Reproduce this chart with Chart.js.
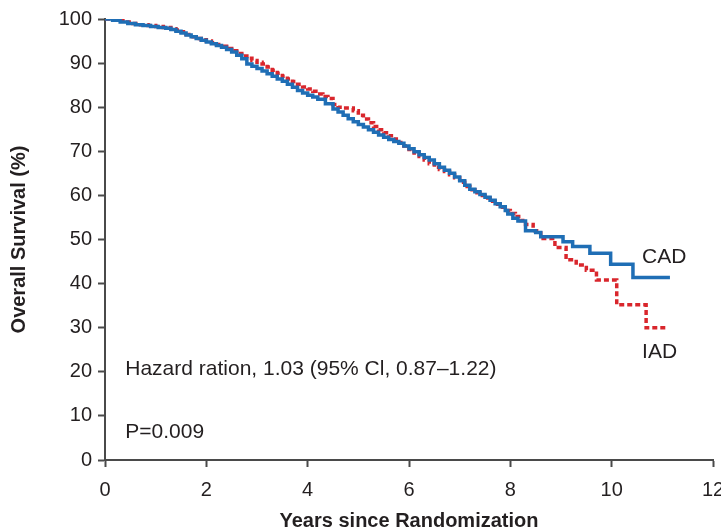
<!DOCTYPE html>
<html>
<head>
<meta charset="utf-8">
<script src="https://cdn.jsdelivr.net/npm/chart.js@4"></script>
<style>
  html, body { margin: 0; padding: 0; background: #fff; }
  #wrap { width: 721px; height: 530px; }
</style>
</head>
<body>
<div id="wrap"><canvas id="km" width="721" height="530"></canvas></div>
<script>
// 생존곡선 값
const cadYears = [0, 0.15, 0.3, 0.45, 0.6, 0.75, 0.9, 1.05, 1.2, 1.3, 1.4, 1.5, 1.6, 1.7, 1.8, 1.9, 2.0, 2.1, 2.2, 2.3,
  2.4, 2.5, 2.6, 2.7, 2.8, 2.9, 3.0, 3.1, 3.2, 3.3, 3.4, 3.5, 3.6, 3.7, 3.8, 3.9, 4.0, 4.1, 4.2, 4.35,
  4.5, 4.6, 4.7, 4.8, 4.9, 5.0, 5.1, 5.2, 5.3, 5.4, 5.5, 5.6, 5.7, 5.8, 5.9, 6.0, 6.1, 6.2, 6.3, 6.4,
  6.5, 6.6, 6.7, 6.8, 6.9, 7.0, 7.1, 7.2, 7.3, 7.4, 7.5, 7.6, 7.7, 7.8, 7.9, 7.95, 8.05, 8.15, 8.3, 8.5,
  8.6, 9.04, 9.23, 9.57, 9.98, 10.42, 11.15];
const cadSurv = [100, 99.7, 99.3, 99.0, 98.7, 98.5, 98.3, 98.1, 97.9, 97.6, 97.2, 96.8, 96.4, 96.0, 95.6, 95.2, 94.8, 94.4, 94.0, 93.6,
  93.1, 92.5, 91.8, 91.0, 89.8, 89.3, 88.8, 88.2, 87.6, 87.0, 86.4, 85.9, 85.2, 84.5, 83.8, 83.2, 82.7, 82.3, 81.8, 80.8,
  79.6, 78.9, 78.2, 77.4, 76.7, 76.1, 75.5, 74.9, 74.3, 73.7, 73.2, 72.7, 72.2, 71.8, 71.2, 70.6, 69.9, 69.2, 68.6, 68.0,
  67.2, 66.4, 65.7, 65.0, 64.2, 63.3, 62.3, 61.4, 60.8, 60.2, 59.6, 58.9, 58.1, 57.4, 56.6, 55.8, 54.8, 54.2, 52.0, 51.6,
  50.6, 49.5, 48.4, 46.9, 44.4, 41.4, 41.4];

const iadYears = [0, 0.25, 0.4, 0.55, 0.7, 0.85, 1.0, 1.15, 1.3, 1.4, 1.5, 1.6, 1.7, 1.8, 1.9, 2.0, 2.1, 2.2, 2.3, 2.4,
  2.5, 2.6, 2.7, 2.8, 2.9, 3.0, 3.1, 3.2, 3.3, 3.4, 3.5, 3.6, 3.7, 3.8, 3.9, 4.0, 4.1, 4.2, 4.3, 4.4,
  4.5, 4.6, 4.7, 4.8, 4.9, 5.0, 5.1, 5.2, 5.3, 5.4, 5.5, 5.6, 5.7, 5.8, 5.9, 6.0, 6.1, 6.2, 6.3, 6.4,
  6.5, 6.6, 6.7, 6.8, 6.9, 7.0, 7.1, 7.2, 7.3, 7.4, 7.5, 7.6, 7.7, 7.8, 7.9, 8.0, 8.1, 8.2, 8.3, 8.45,
  8.6, 8.88, 9.1, 9.3, 9.5, 9.7, 10.1, 10.68, 11.1];
const iadSurv = [100, 99.7, 99.3, 99.0, 98.7, 98.5, 98.3, 98.1, 97.8, 97.5, 97.1, 96.5, 96.0, 95.6, 95.3, 95.0, 94.6, 94.2, 93.8, 93.3,
  92.8, 92.2, 91.6, 91.1, 90.6, 90.2, 89.8, 89.1, 88.4, 87.7, 87.0, 86.4, 85.8, 85.2, 84.6, 84.1, 83.6, 83.0, 82.4, 82.0,
  80.6, 80.0, 79.8, 79.8, 79.2, 78.2, 77.3, 76.5, 75.6, 74.9, 74.2, 73.5, 72.8, 72.0, 71.2, 70.4, 69.6, 68.8, 68.0, 67.2,
  66.4, 65.9, 65.4, 64.7, 64.0, 63.0, 62.0, 61.3, 60.6, 60.0, 59.4, 58.7, 58.0, 57.3, 56.6, 55.9, 55.2, 54.3, 53.4, 52.0,
  50.2, 48.2, 45.4, 44.2, 43.0, 40.8, 35.2, 30.0, 30.0];

const xTicks = [0, 2, 4, 6, 8, 10, 12];
const yTicks = [0, 10, 20, 30, 40, 50, 60, 70, 80, 90, 100];

// 그림 안 텍스트 (x, y 는 데이터 단위)
const notes = [
  { text: 'Hazard ration, 1.03 (95% Cl, 0.87\u20131.22)', x: 0.4, y: 20.6 },
  { text: 'P=0.009', x: 0.4, y: 6.3 },
  { text: 'CAD', x: 10.6, y: 46.0 },
  { text: 'IAD', x: 10.6, y: 24.5 },
];

const FONT   = '"Liberation Sans", Arial, Helvetica, sans-serif';
const INK    = '#231f20';
const AXIS   = '#4a4a4a';
const BLUE   = '#1f6eb5';
const RED    = '#d9262c';

const toPts = (xs, ys) => xs.map((x, i) => ({ x, y: ys[i] }));

/* ── 텍스트 주석 플러그인 ───────────────────── */
const notesPlugin = {
  id: 'notes',
  afterDatasetsDraw(chart) {
    const { ctx, scales: { x, y } } = chart;
    ctx.save();
    ctx.font = `21px ${FONT}`;
    ctx.fillStyle = INK;
    ctx.textAlign = 'left';
    ctx.textBaseline = 'middle';
    notes.forEach(n => ctx.fillText(n.text, x.getPixelForValue(n.x), y.getPixelForValue(n.y)));
    ctx.restore();
  },
};

new Chart(document.getElementById('km'), {
  type: 'line',
  data: {
    datasets: [
      {
        label: 'CAD',
        data: toPts(cadYears, cadSurv),
        borderColor: BLUE,
        borderWidth: 3.5,
        stepped: true,
        pointRadius: 0,
        fill: false,
      },
      {
        label: 'IAD',
        data: toPts(iadYears, iadSurv),
        borderColor: RED,
        borderWidth: 3.5,
        borderDash: [5, 3],
        stepped: true,
        pointRadius: 0,
        fill: false,
      },
    ],
  },
  options: {
    responsive: false,
    animation: false,
    layout: { padding: { top: 19, right: 8, left: 0, bottom: 0 } },
    plugins: { legend: { display: false }, tooltip: { enabled: false } },
    scales: {
      x: {
        type: 'linear',
        min: 0, max: 12,
        afterBuildTicks: s => { s.ticks = xTicks.map(v => ({ value: v })); },
        afterFit: s => { s.height = 70; s.paddingLeft = 0; s.paddingRight = 0; },
        ticks: { color: INK, font: { family: FONT, size: 20 }, padding: 11, maxRotation: 0 },
        grid: { display: true, drawOnChartArea: false, drawTicks: true, tickLength: 7, tickColor: AXIS, tickWidth: 2 },
        border: { color: AXIS, width: 2 },
        title: {
          display: true,
          text: 'Years since Randomization',
          color: INK,
          font: { family: FONT, size: 20, weight: 'bold', lineHeight: 1 },
          padding: { top: 0, bottom: -1 },
        },
      },
      y: {
        min: 0, max: 100,
        afterBuildTicks: s => { s.ticks = yTicks.map(v => ({ value: v })); },
        afterFit: s => { s.width = 105; s.paddingTop = 0; s.paddingBottom = 0; },
        ticks: { color: INK, font: { family: FONT, size: 20 }, padding: 6 },
        grid: { display: true, drawOnChartArea: false, drawTicks: true, tickLength: 7, tickColor: AXIS, tickWidth: 2 },
        border: { color: AXIS, width: 2 },
        title: {
          display: true,
          text: 'Overall Survival (%)',
          color: INK,
          font: { family: FONT, size: 20, weight: 'bold', lineHeight: 1.2 },
          padding: { top: 7, bottom: 0 },
        },
      },
    },
  },
  plugins: [notesPlugin],
});
</script>
</body>
</html>
